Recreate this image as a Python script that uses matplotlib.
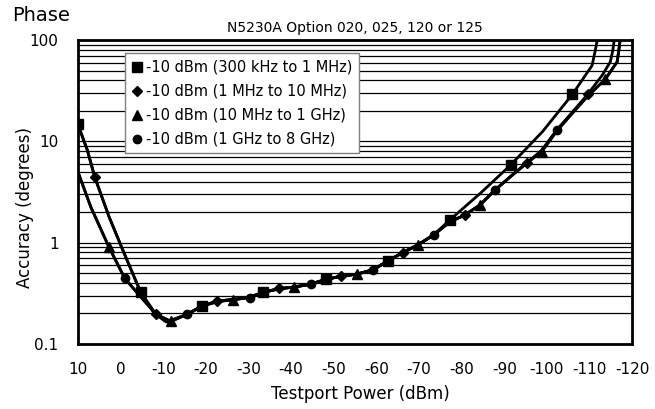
import matplotlib
matplotlib.use('Agg')
from matplotlib import pyplot as plt
from matplotlib.lines import Line2D
from matplotlib.ticker import FixedLocator, LogLocator, NullFormatter

plt.rcParams['font.family'] = ['Liberation Sans Narrow', 'DejaVu Sans']

labels = ['-10 dBm (300 kHz to 1 MHz)', '-10 dBm (1 MHz to 10 MHz)',
          '-10 dBm (10 MHz to 1 GHz)', '-10 dBm (1 GHz to 8 GHz)']
markers = ['s', 'D', '^', 'o']
msizes = [6.5, 5, 7, 6]

# 300 kHz to 1 MHz (squares)
sq_x = [10, 7.8, 6.0, 2.7, -0.5, -4.7, -7.9, -10.7, -15.6, -19.1, -22.7, -26.3, -30.3,
        -33.5, -37.2, -40.7, -44.6, -48.2, -51.7, -55.5, -59.2, -62.7, -66.2, -69.8,
        -73.5, -77.2, -84.5, -91.5, -99.0, -106.0, -110.6, -111.4, -112.0, -112.4]
sq_y = [14.8, 8.2, 4.4, 1.8, 0.85, 0.327, 0.20, 0.165, 0.196, 0.237, 0.26, 0.275, 0.29,
        0.324, 0.35, 0.365, 0.39, 0.435, 0.465, 0.49, 0.54, 0.657, 0.8, 0.96,
        1.2, 1.67, 3.1, 5.84, 12.5, 29.1, 56, 80, 110, 150]
sq_marks = [0, 5, 9, 13, 17, 21, 25, 27, 29]

# 1 MHz to 10 MHz (diamonds)
di_x = [10, 7.8, 6.07, 2.7, -0.5, -4.6, -8.3, -11.0, -15.6, -19.1, -22.7, -26.3, -30.3,
        -33.5, -37.2, -40.7, -44.6, -48.2, -51.7, -55.5, -59.2, -62.7, -66.2, -69.8,
        -73.5, -77.2, -80.7, -84.3, -87.8, -91.5, -95.3, -98.8, -102.3, -106.0,
        -109.6, -113.0, -114.9, -115.5, -115.8, -116.0]
di_y = [14.5, 8.2, 4.42, 1.8, 0.85, 0.33, 0.197, 0.165, 0.196, 0.235, 0.265, 0.275, 0.29,
        0.324, 0.354, 0.365, 0.39, 0.435, 0.467, 0.49, 0.54, 0.66, 0.795, 0.95,
        1.2, 1.6, 1.87, 2.35, 3.3, 4.5, 6.15, 8.0, 12.9, 19.5,
        29.2, 45, 61, 80, 100, 130]
di_marks = [2, 6, 10, 14, 18, 22, 26, 30, 34]

# 10 MHz to 1 GHz (triangles)
tr_x = [10, 7.0, 2.7, -1.0, -4.0, -8.3, -11.8, -15.6, -19.1, -22.7, -26.3, -30.3,
        -33.5, -37.2, -40.7, -44.6, -48.2, -51.7, -55.5, -59.2, -62.7, -66.2, -69.8,
        -73.5, -77.2, -80.7, -84.3, -87.8, -91.5, -95.3, -98.8, -102.3, -106.0,
        -109.6, -113.7, -116.5, -116.9, -117.2, -117.4]
tr_y = [5.0, 2.26, 0.9, 0.444, 0.316, 0.197, 0.167, 0.196, 0.237, 0.265, 0.27, 0.29,
        0.324, 0.35, 0.365, 0.39, 0.435, 0.465, 0.49, 0.54, 0.66, 0.8, 0.95,
        1.2, 1.6, 1.87, 2.35, 3.3, 4.5, 6.1, 7.9, 12.5, 19,
        28, 41, 61, 80, 100, 130]
tr_marks = [2, 6, 10, 14, 18, 22, 26, 30, 34]

# 1 GHz to 8 GHz (circles)
ci_x = [10, 7.0, 2.7, -1.0, -4.0, -8.3, -11.8, -15.6, -19.1, -22.7, -26.3, -30.3,
        -33.5, -37.2, -40.7, -44.6, -48.2, -51.7, -55.5, -59.2, -62.7, -66.2, -69.8,
        -73.5, -77.2, -80.7, -84.3, -87.8, -91.5, -95.3, -98.8, -102.3, -106.0,
        -109.6, -113.7, -116.5, -116.9, -117.2, -117.4]
ci_y = [5.0, 2.26, 0.9, 0.444, 0.316, 0.197, 0.167, 0.196, 0.237, 0.265, 0.275, 0.286,
        0.324, 0.35, 0.365, 0.387, 0.435, 0.465, 0.49, 0.537, 0.66, 0.8, 0.95,
        1.19, 1.6, 1.87, 2.35, 3.3, 4.5, 6.1, 8.2, 12.9, 19,
        28, 41, 61, 80, 100, 130]
ci_marks = [3, 7, 11, 15, 19, 23, 27, 31]

series = [(sq_x, sq_y, sq_marks), (di_x, di_y, di_marks),
          (tr_x, tr_y, tr_marks), (ci_x, ci_y, ci_marks)]

xticks = [10, 0, -10, -20, -30, -40, -50, -60, -70, -80, -90, -100, -110, -120]
yticks = [0.1, 1, 10, 100]
ytick_labels = ['0.1', '1', '10', '100']

fig = plt.figure(figsize=(6.55, 4.09), dpi=100)
ax = fig.add_axes([0.119, 0.159, 0.846, 0.743])

for (x, y, mk), m, ms in zip(series, markers, msizes):
    ax.plot(x, y, color='black', lw=2, marker=m, markersize=ms,
            markevery=mk, markerfacecolor='black', markeredgecolor='black')

ax.set_yscale('log')
ax.set_xlim(10, -120)
ax.set_ylim(0.1, 100)
ax.set_xticks(xticks)
ax.set_xticklabels([str(t) for t in xticks])
ax.yaxis.set_major_locator(FixedLocator(yticks))
ax.set_yticklabels(ytick_labels)
ax.yaxis.set_minor_locator(LogLocator(base=10, subs=range(2, 10)))
ax.yaxis.set_minor_formatter(NullFormatter())
ax.tick_params(which='both', length=0, labelsize=11)
ax.tick_params(axis='x', pad=13)
ax.tick_params(axis='y', pad=14)
ax.yaxis.grid(True, which='both', color='black', lw=0.9)
for s in ax.spines.values():
    s.set_linewidth(2)

ax.set_xlabel('Testport Power (dBm)', fontsize=12)
ax.xaxis.set_label_coords(0.51, -0.135)
ax.set_ylabel('Accuracy (degrees)', fontsize=12)
ax.yaxis.set_label_coords(-0.08, 0.45)
ax.set_title('N5230A Option 020, 025, 120 or 125', fontsize=10, pad=6)
fig.text(0.018, 0.963, 'Phase', fontsize=14, va='center')

handles = [Line2D([], [], color='black', linestyle='none', marker=m, markersize=ms)
           for m, ms in zip(markers, msizes)]
leg = ax.legend(handles, labels, loc='upper left', bbox_to_anchor=(0.085, 0.957),
                fontsize=10.5, frameon=True, fancybox=False, borderaxespad=0,
                handlelength=0.7, handletextpad=0.3, labelspacing=0.62,
                borderpad=0.45, framealpha=1)
leg.get_frame().set_edgecolor('gray')
leg.get_frame().set_linewidth(1)

fig.savefig('out.png', dpi=100)
